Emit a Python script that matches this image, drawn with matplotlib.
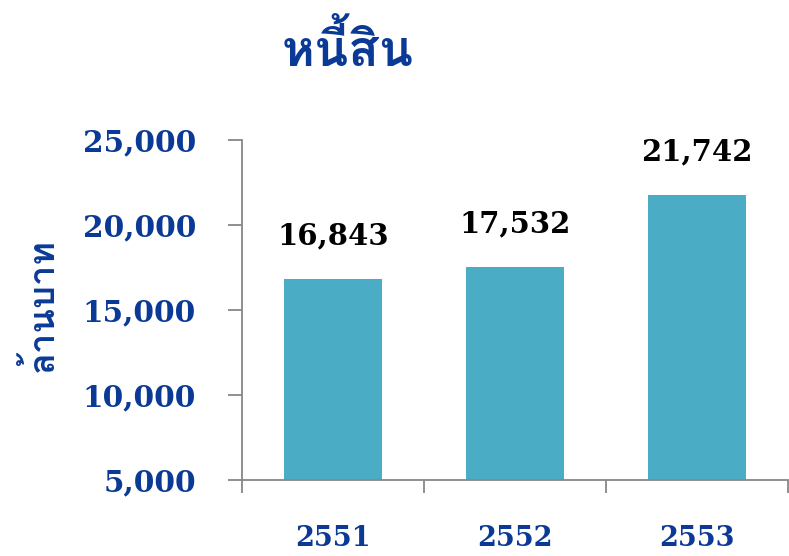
import matplotlib
matplotlib.use("Agg")
import matplotlib.pyplot as plt
from matplotlib import font_manager
from matplotlib.ticker import FuncFormatter, FixedLocator

# ---- data ----
years = ["2551", "2552", "2553"]
liabilities = [16843, 17532, 21742]
y_ticks = [5000, 10000, 15000, 20000, 25000]
title_text = "หนี้สิน"
ylabel_text = "ล้านบาท"

# ---- find a font with Thai glyphs ----
def find_thai_fonts():
    found = []
    try:
        from fontTools.ttLib import TTFont
    except Exception:
        return found
    seen = set()
    for fe in font_manager.fontManager.ttflist:
        if fe.name in seen:
            continue
        try:
            f = TTFont(fe.fname, fontNumber=0, lazy=True)
            cmap = f.getBestCmap()
            if cmap and 0x0E2B in cmap and 0x0E49 in cmap:
                found.append(fe.name)
                seen.add(fe.name)
        except Exception:
            pass
    return found

thai = find_thai_fonts()
thai_family = thai + ["DejaVu Sans"]

num_font = "DejaVu Serif"
blue = "#0B3A96"
grey = "#878787"
bar_color = "#4BACC6"

fig = plt.figure(figsize=(7.89, 5.56), dpi=100)
ax = fig.add_axes([242/789, (556-480)/556, (788-242)/789, (480-140)/556])

x = range(len(years))
bars = ax.bar(x, liabilities, width=0.54, color=bar_color, zorder=2)

ax.set_xlim(-0.5, 2.5)
ax.set_ylim(5000, 25000)
ax.yaxis.set_major_locator(FixedLocator(y_ticks))
ax.yaxis.set_major_formatter(FuncFormatter(lambda v, p: f"{int(v):,}"))

# category boundary ticks on x axis
ax.set_xticks([-0.5, 0.5, 1.5, 2.5])
ax.set_xticklabels([])
ax.tick_params(axis="x", length=9.5, width=1.3, color=grey, direction="out")
ax.tick_params(axis="y", length=10, width=1.3, color=grey, direction="out", pad=23)
for lab in ax.get_yticklabels():
    lab.set_fontfamily(num_font)
    lab.set_fontweight("bold")
    lab.set_fontsize(21.3)
    lab.set_color(blue)

for i, yr in enumerate(years):
    ax.annotate(yr, xy=(i, 0), xycoords=("data", "axes fraction"),
                xytext=(0, -42), textcoords="offset points",
                ha="center", va="center", fontsize=19.5, fontweight="bold",
                family=num_font, color=blue)

for i, v in enumerate(liabilities):
    ax.annotate(f"{v:,}", xy=(i, v), xytext=(0, 31), textcoords="offset points",
                ha="center", va="center", fontsize=21, fontweight="bold",
                family=num_font, color="black")

for s in ["top", "right"]:
    ax.spines[s].set_visible(False)
for s in ["left", "bottom"]:
    ax.spines[s].set_color(grey)
    ax.spines[s].set_linewidth(1.3)
ax.spines["left"].set_bounds(5000, 25000)

fig.text(348/789, 1 - 48/556, title_text, ha="center", va="center",
         fontsize=36, fontweight="bold", color=blue, family=thai_family)
fig.text(41/789, 1 - 305/556, ylabel_text, ha="center", va="center",
         rotation=90, fontsize=26, fontweight="bold", color=blue, family=thai_family)

fig.savefig("out.png", dpi=100)
